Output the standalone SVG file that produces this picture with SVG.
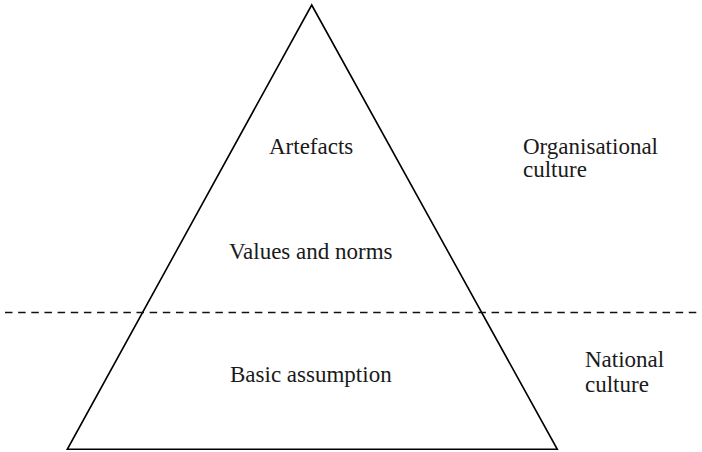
<svg xmlns="http://www.w3.org/2000/svg" width="702" height="452" viewBox="0 0 702 452">
  <style>
    .edge { fill: none; stroke: #000; stroke-width: 1.6; stroke-linejoin: miter; }
    .divider { stroke: #111; stroke-width: 1.6; stroke-dasharray: 7.5 5.65; }
    .label { font-family: "Liberation Serif", "Times New Roman", serif; font-size: 23px; fill: #1a1a1a; }
  </style>
  <rect width="702" height="452" fill="#fff"/>

  <!-- pyramid outline -->
  <g id="pyramid">
    <polygon class="edge" points="311.7,5 557.3,449.3 67.3,449.3"/>
  </g>

  <!-- boundary between organisational and national culture -->
  <g id="connectors">
    <line class="divider" x1="5" y1="312.5" x2="698" y2="312.5"/>
  </g>

  <g id="artefacts">
    <text class="label" x="269" y="154">Artefacts</text>
  </g>
  <g id="values-and-norms">
    <text class="label" x="229" y="259">Values and norms</text>
  </g>
  <g id="basic-assumption">
    <text class="label" x="230" y="382">Basic assumption</text>
  </g>
  <g id="organisational-culture">
    <text class="label" x="523" y="154">Organisational</text>
    <text class="label" x="523" y="177">culture</text>
  </g>
  <g id="national-culture">
    <text class="label" x="585" y="366.5">National</text>
    <text class="label" x="585" y="392">culture</text>
  </g>
</svg>
